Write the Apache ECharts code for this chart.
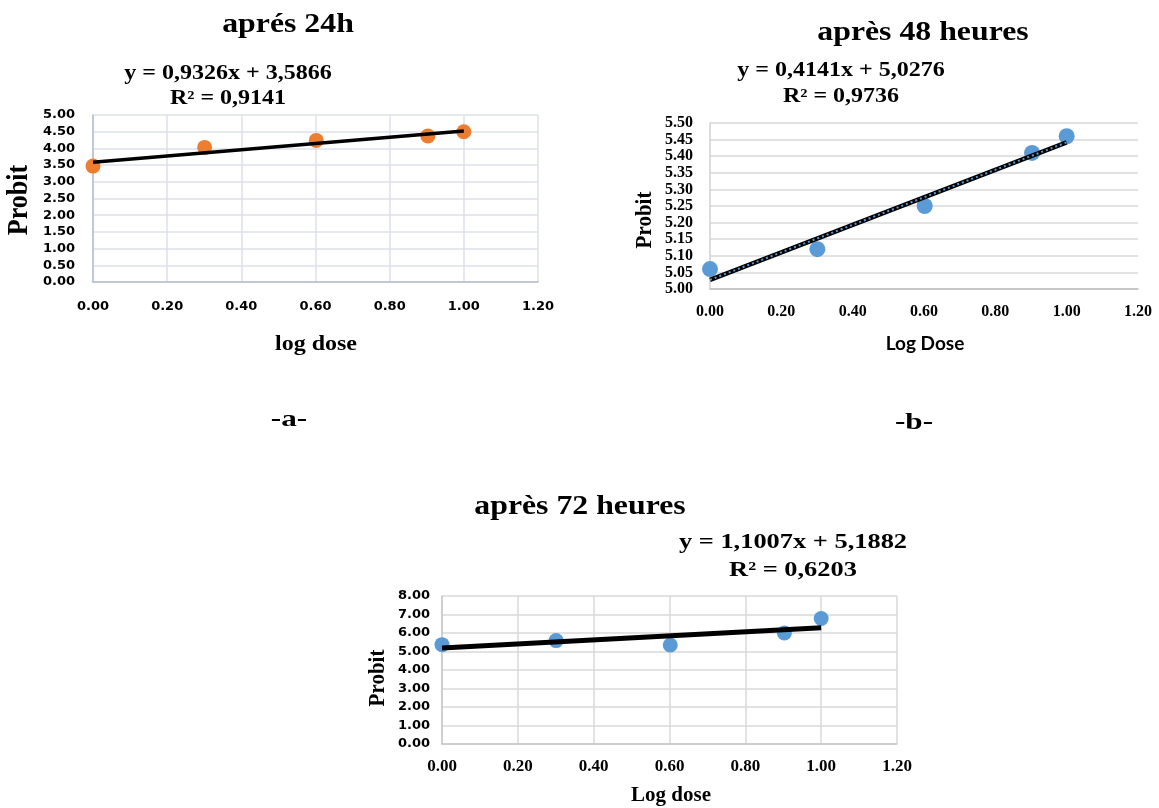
<!DOCTYPE html>
<html>
<head>
<meta charset="utf-8">
<script src="https://cdn.jsdelivr.net/npm/echarts@6/dist/echarts.min.js"></script>
<style>
html,body{margin:0;padding:0;background:#fff;}
#c{width:1159px;height:808px;}
</style>
</head>
<body>
<div id="c"></div>
<script>
// ---- data ----
var logDose = [0, 0.301, 0.602, 0.903, 1.0];
var probit24 = [3.47, 4.03, 4.24, 4.37, 4.50];
var probit48 = [5.06, 5.12, 5.25, 5.41, 5.46];
var probit72 = [5.37, 5.59, 5.35, 6.00, 6.78];
// trend line end points (from the printed equations)
var trend24 = [[0, 3.5866], [1, 4.5192]];
var trend48 = [[0, 5.0276], [1, 5.4417]];
var trend72 = [[0, 5.1882], [1, 6.2889]];
var eq24 = ['y = 0,9326x + 3,5866', 'R² = 0,9141'];
var eq48 = ['y = 0,4141x + 5,0276', 'R² = 0,9736'];
var eq72 = ['y = 1,1007x + 5,1882', 'R² = 0,6203'];
var titles = ['aprés 24h', 'après 48 heures', 'après 72 heures'];
var xNames = ['log dose', 'Log Dose', 'Log dose'];
var yName = 'Probit';
var panelLabels = ['-a-', '-b-'];

function pts(xs, ys){ return xs.map(function(x,i){ return [x, ys[i]]; }); }

var SERIF = '"Liberation Serif", "Times New Roman", serif';
var SANS = '"DejaVu Sans", sans-serif';
var SANS2 = 'Lato, "Open Sans", sans-serif';

function fmt2(v){ return v.toFixed(2); }

var chart = echarts.init(document.getElementById('c'), null, {renderer:'canvas'});

function txt(text, x, y, size, family, rot, sx, sy){
  return {
    type:'text', x:x, y:y, rotation: rot || 0, scaleX: sx || 1, scaleY: sy || 1,
    style:{ text:text, x:0, y:0, align:'center', verticalAlign:'middle',
      font:'bold ' + size + 'px ' + family, fill:'#000' }
  };
}

var S = 1.2; // horizontal stretch of the reference text

var option = {
  animation:false,
  grid:[
    {left:93, top:115, width:445, height:167},
    {left:710, top:123, width:428, height:166},
    {left:442, top:596, width:455, height:148}
  ],
  xAxis:[
    {gridIndex:0, type:'value', min:0, max:1.2, interval:0.2,
      axisLine:{show:true, lineStyle:{color:'#b4bdcf', width:1.5}}, axisTick:{show:false},
      splitLine:{show:true, lineStyle:{color:'#dce0e8', width:1.5}},
      axisLabel:{formatter:fmt2, color:'#000', fontFamily:SANS, fontWeight:'bold', fontSize:13, margin:18}},
    {gridIndex:1, type:'value', min:0, max:1.2, interval:0.2,
      axisLine:{show:true, lineStyle:{color:'#bfbfbf', width:1.5}}, axisTick:{show:false},
      splitLine:{show:false},
      axisLabel:{formatter:fmt2, color:'#000', fontFamily:SERIF, fontWeight:'bold', fontSize:16, margin:15}},
    {gridIndex:2, type:'value', min:0, max:1.2, interval:0.2,
      axisLine:{show:true, lineStyle:{color:'#c8c8c8', width:1.5}}, axisTick:{show:false},
      splitLine:{show:true, lineStyle:{color:'#d9d9d9', width:1.5}},
      axisLabel:{formatter:fmt2, color:'#000', fontFamily:SERIF, fontWeight:'bold', fontSize:17, margin:14}}
  ],
  yAxis:[
    {gridIndex:0, type:'value', min:0, max:5, interval:0.5,
      axisLine:{show:true, lineStyle:{color:'#b4bdcf', width:1.5}}, axisTick:{show:false},
      splitLine:{show:true, lineStyle:{color:'#dce0e8', width:1.5}},
      axisLabel:{formatter:fmt2, color:'#000', fontFamily:SANS, fontWeight:'bold', fontSize:13, margin:18}},
    {gridIndex:1, type:'value', min:5, max:5.5, interval:0.05,
      axisLine:{show:true, lineStyle:{color:'#d0d0d0', width:1.5}}, axisTick:{show:false},
      splitLine:{show:true, lineStyle:{color:'#d9d9d9', width:1.5}},
      axisLabel:{formatter:fmt2, color:'#000', fontFamily:SERIF, fontWeight:'bold', fontSize:16, margin:17}},
    {gridIndex:2, type:'value', min:0, max:8, interval:1,
      axisLine:{show:true, lineStyle:{color:'#c8c8c8', width:1.5}}, axisTick:{show:false},
      splitLine:{show:true, lineStyle:{color:'#d9d9d9', width:1.5}},
      axisLabel:{formatter:fmt2, color:'#000', fontFamily:SANS, fontWeight:'bold', fontSize:13, margin:12}}
  ],
  series:[
    {type:'scatter', xAxisIndex:0, yAxisIndex:0, data:pts(logDose, probit24), symbolSize:15,
      itemStyle:{color:'#ED7D31', opacity:1}, z:2},
    {type:'line', xAxisIndex:0, yAxisIndex:0, data:trend24, symbol:'none',
      lineStyle:{color:'#000', width:3.5}, z:3},
    {type:'scatter', xAxisIndex:1, yAxisIndex:1, data:pts(logDose, probit48), symbolSize:16,
      itemStyle:{color:'#5B9BD5', opacity:1}, z:2},
    {type:'line', xAxisIndex:1, yAxisIndex:1, data:trend48, symbol:'none',
      lineStyle:{color:'#000', width:4.5}, z:3},
    {type:'line', xAxisIndex:1, yAxisIndex:1, data:trend48, symbol:'none',
      lineStyle:{color:'#5B9BD5', width:2, type:[2,3]}, z:4},
    {type:'scatter', xAxisIndex:2, yAxisIndex:2, data:pts(logDose, probit72), symbolSize:15,
      itemStyle:{color:'#5B9BD5', opacity:1}, z:2},
    {type:'line', xAxisIndex:2, yAxisIndex:2, data:trend72, symbol:'none',
      lineStyle:{color:'#000', width:5}, z:3}
  ],
  graphic:[
    txt(titles[0], 288, 25, 26.5, SERIF, 0, S, 1),
    txt(eq24[0], 228, 74, 20, SERIF, 0, S, 1),
    txt(eq24[1], 228, 99, 20, SERIF, 0, S, 1),
    txt(yName, 19, 200, 26, SERIF, Math.PI/2, 1, 1.15),
    txt(xNames[0], 316, 345, 20, SERIF, 0, S, 1),
    txt(panelLabels[0], 289, 420, 24, SERIF, 0, 1.3, 1),

    txt(titles[1], 923, 33, 26.5, SERIF, 0, S, 1),
    txt(eq48[0], 841, 71, 20, SERIF, 0, S, 1),
    txt(eq48[1], 841, 97, 20, SERIF, 0, S, 1),
    txt(yName, 645, 220, 21, SERIF, Math.PI/2, 1, 1.1),
    txt(xNames[1], 925, 344, 19, SANS2, 0, 1, 1),
    txt(panelLabels[1], 914, 423, 24, SERIF, 0, 1.3, 1),

    txt(titles[2], 580, 507, 26.5, SERIF, 0, S, 1),
    txt(eq72[0], 793, 542, 22, SERIF, 0, S, 1),
    txt(eq72[1], 793, 570, 22, SERIF, 0, S, 1),
    txt(yName, 378, 678, 21, SERIF, Math.PI/2, 1, 1.1),
    txt(xNames[2], 671, 796, 21, SERIF, 0, 1, 1)
  ]
};
chart.setOption(option);
</script>
</body>
</html>
